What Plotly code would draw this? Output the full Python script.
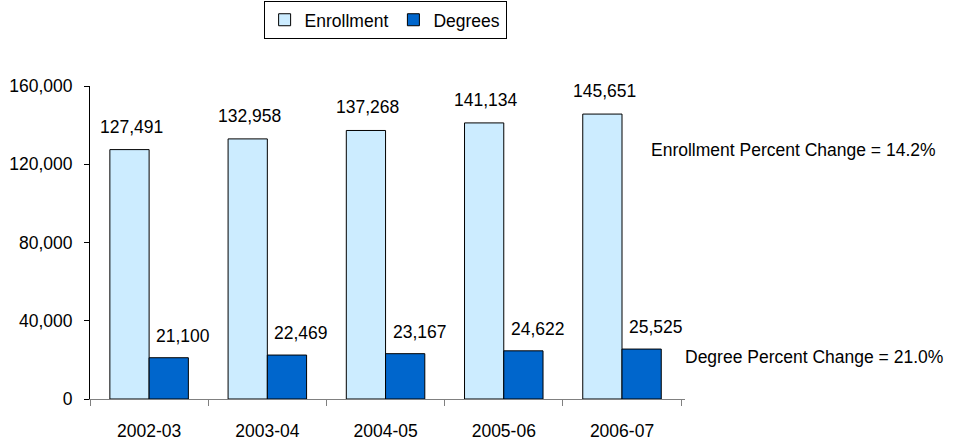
import plotly.graph_objects as go

years = ["2002-03", "2003-04", "2004-05", "2005-06", "2006-07"]
enrollment = [127491, 132958, 137268, 141134, 145651]
degrees = [21100, 22469, 23167, 24622, 25525]
y_ticks = [0, 40000, 80000, 120000, 160000]
notes = ["Enrollment Percent Change = 14.2%", "Degree Percent Change = 21.0%"]

FONT = "Liberation Sans, Arial, sans-serif"
FS = 17.5

fig = go.Figure()
fig.add_trace(go.Bar(x=years, y=enrollment, name="Enrollment",
                     marker=dict(color="#CCECFF", line=dict(color="#000000", width=1))))
fig.add_trace(go.Bar(x=years, y=degrees, name="Degrees",
                     marker=dict(color="#0066CC", line=dict(color="#000000", width=1))))

anns = []
for yr, v in zip(years, enrollment):
    anns.append(dict(x=yr, y=v, xref="x", yref="y", text=f"{v:,}", showarrow=False,
                     xshift=-18, yshift=23, yanchor="middle", xanchor="center"))
for yr, v in zip(years, degrees):
    anns.append(dict(x=yr, y=v, xref="x", yref="y", text=f"{v:,}", showarrow=False,
                     xshift=34, yshift=22, yanchor="middle", xanchor="center"))
anns.append(dict(x=0.943, y=0.796, xref="paper", yref="paper", text=notes[0], showarrow=False,
                 xanchor="left", yanchor="middle", xshift=-2))
anns.append(dict(x=1.0, y=0.134, xref="paper", yref="paper", text=notes[1], showarrow=False,
                 xanchor="left", yanchor="middle", xshift=-2))

fig.update_layout(
    width=955, height=444,
    margin=dict(l=90, r=270, t=86, b=45, autoexpand=False),
    paper_bgcolor="white", plot_bgcolor="white",
    font=dict(family=FONT, size=FS, color="#000000"),
    barmode="group", bargap=0.336, bargroupgap=0,
    annotations=anns,
    legend=dict(orientation="h", x=0.496, xanchor="center", y=1.272, yanchor="top",
                bordercolor="#000000", borderwidth=1, bgcolor="white",
                font=dict(family=FONT, size=FS), itemwidth=30, traceorder="normal",
                tracegroupgap=0),
    showlegend=True,
)
fig.update_xaxes(type="category", showline=True, linecolor="#808080", linewidth=1,
                 ticks="outside", ticklen=6, tickcolor="#808080", tickson="boundaries",
                 showgrid=False, ticklabelstandoff=16, automargin=False)
fig.update_yaxes(range=[0, 160000], tickvals=y_ticks, tickformat=",d",
                 showline=True, linecolor="#000000", linewidth=1,
                 ticks="outside", ticklen=5, tickcolor="#000000",
                 showgrid=False, zeroline=False, ticklabelstandoff=8, automargin=False)

fig.write_html("out.html", config={"displayModeBar": False},
               post_script="document.body.style.margin='0';document.body.style.padding='0';")
